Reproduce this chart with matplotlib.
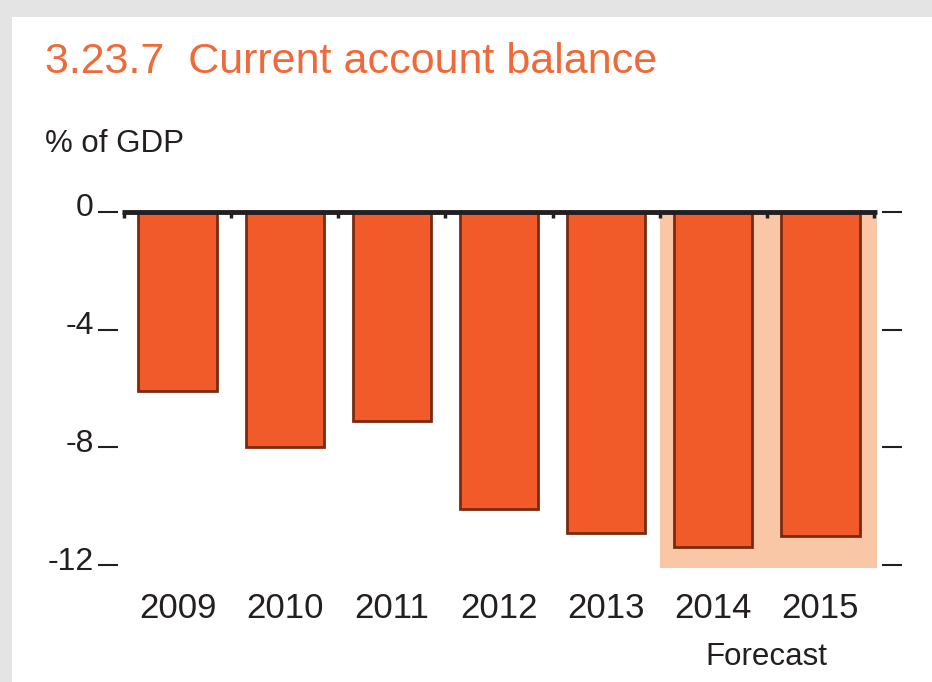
import matplotlib
matplotlib.use("Agg")
import matplotlib.pyplot as plt
from matplotlib.patches import Rectangle
import matplotlib.transforms as mtransforms

years = ["2009", "2010", "2011", "2012", "2013", "2014", "2015"]
balance = [-6.1, -8.0, -7.1, -10.1, -10.9, -11.4, -11.0]
yticks = [0, -4, -8, -12]
ytick_labels = ["0", "-4", "-8", "-12"]
forecast_start = 5  # index of first forecast year

plt.rcParams["font.family"] = ["Liberation Sans", "DejaVu Sans"]

fig = plt.figure(figsize=(9.32, 6.82), dpi=100)
fig.patch.set_facecolor("white")
# grey screenshot frame (top and left strips)
fig.patches.append(Rectangle((0, 1 - 17 / 682), 1, 17 / 682, transform=fig.transFigure,
                             facecolor="#e4e4e4", edgecolor="none"))
fig.patches.append(Rectangle((0, 0), 12 / 932, 1, transform=fig.transFigure,
                             facecolor="#e4e4e4", edgecolor="none"))

ax = fig.add_axes([118 / 932, 1 - 571 / 682, 764 / 932, 368 / 682])
ax.set_facecolor("none")
x = list(range(len(years)))

# forecast shading
ax.fill_between([forecast_start - 0.5, len(years) - 0.47], -12.1, 0,
                color="#f9c6a6", linewidth=0, zorder=1)

ax.bar(x, balance, width=0.73, color="#f15a29", edgecolor="#7a2a12", linewidth=2, zorder=2)

# zero line and category ticks
ax.plot([-0.52, len(years) - 0.47], [0, 0], color="#231f20", linewidth=3.5, zorder=3,
        solid_capstyle="butt")
ax.vlines([i - 0.5 for i in range(len(years) + 1)], -0.22, 0, color="#231f20",
          linewidth=2.5, zorder=3)

ax.set_xlim(-0.556, len(years) - 0.425)
ax.set_ylim(-12.2, 0.3)
for s in ax.spines.values():
    s.set_visible(False)

ax.set_yticks(yticks)
ax.set_yticklabels(ytick_labels, fontsize=23, color="#231f20")
ax.tick_params(axis="y", which="both", direction="out", length=14.5, width=1.5,
               color="#231f20", left=True, right=True, pad=3)
# labels sit a little above their dashes, as in the source
shift = mtransforms.ScaledTranslation(0, 5 / 72, fig.dpi_scale_trans)
for lab in ax.get_yticklabels():
    lab.set_transform(lab.get_transform() + shift)

ax.set_xticks(x)
ax.set_xticklabels(years, fontsize=25, color="#231f20")
ax.tick_params(axis="x", length=0, pad=15)

trans = mtransforms.blended_transform_factory(ax.transData, fig.transFigure)
ax.text(forecast_start + 0.5, 1 - 657 / 682, "Forecast", transform=trans,
        ha="center", va="center", fontsize=22.5, color="#231f20")

fig.text(45 / 932, 1 - 62 / 682, "3.23.7  Current account balance", ha="left", va="center",
         fontsize=31, color="#ef6a3a")
fig.text(45 / 932, 1 - 144 / 682, "% of GDP", ha="left", va="center",
         fontsize=22.5, color="#231f20")

fig.savefig("out.png", dpi=100)
